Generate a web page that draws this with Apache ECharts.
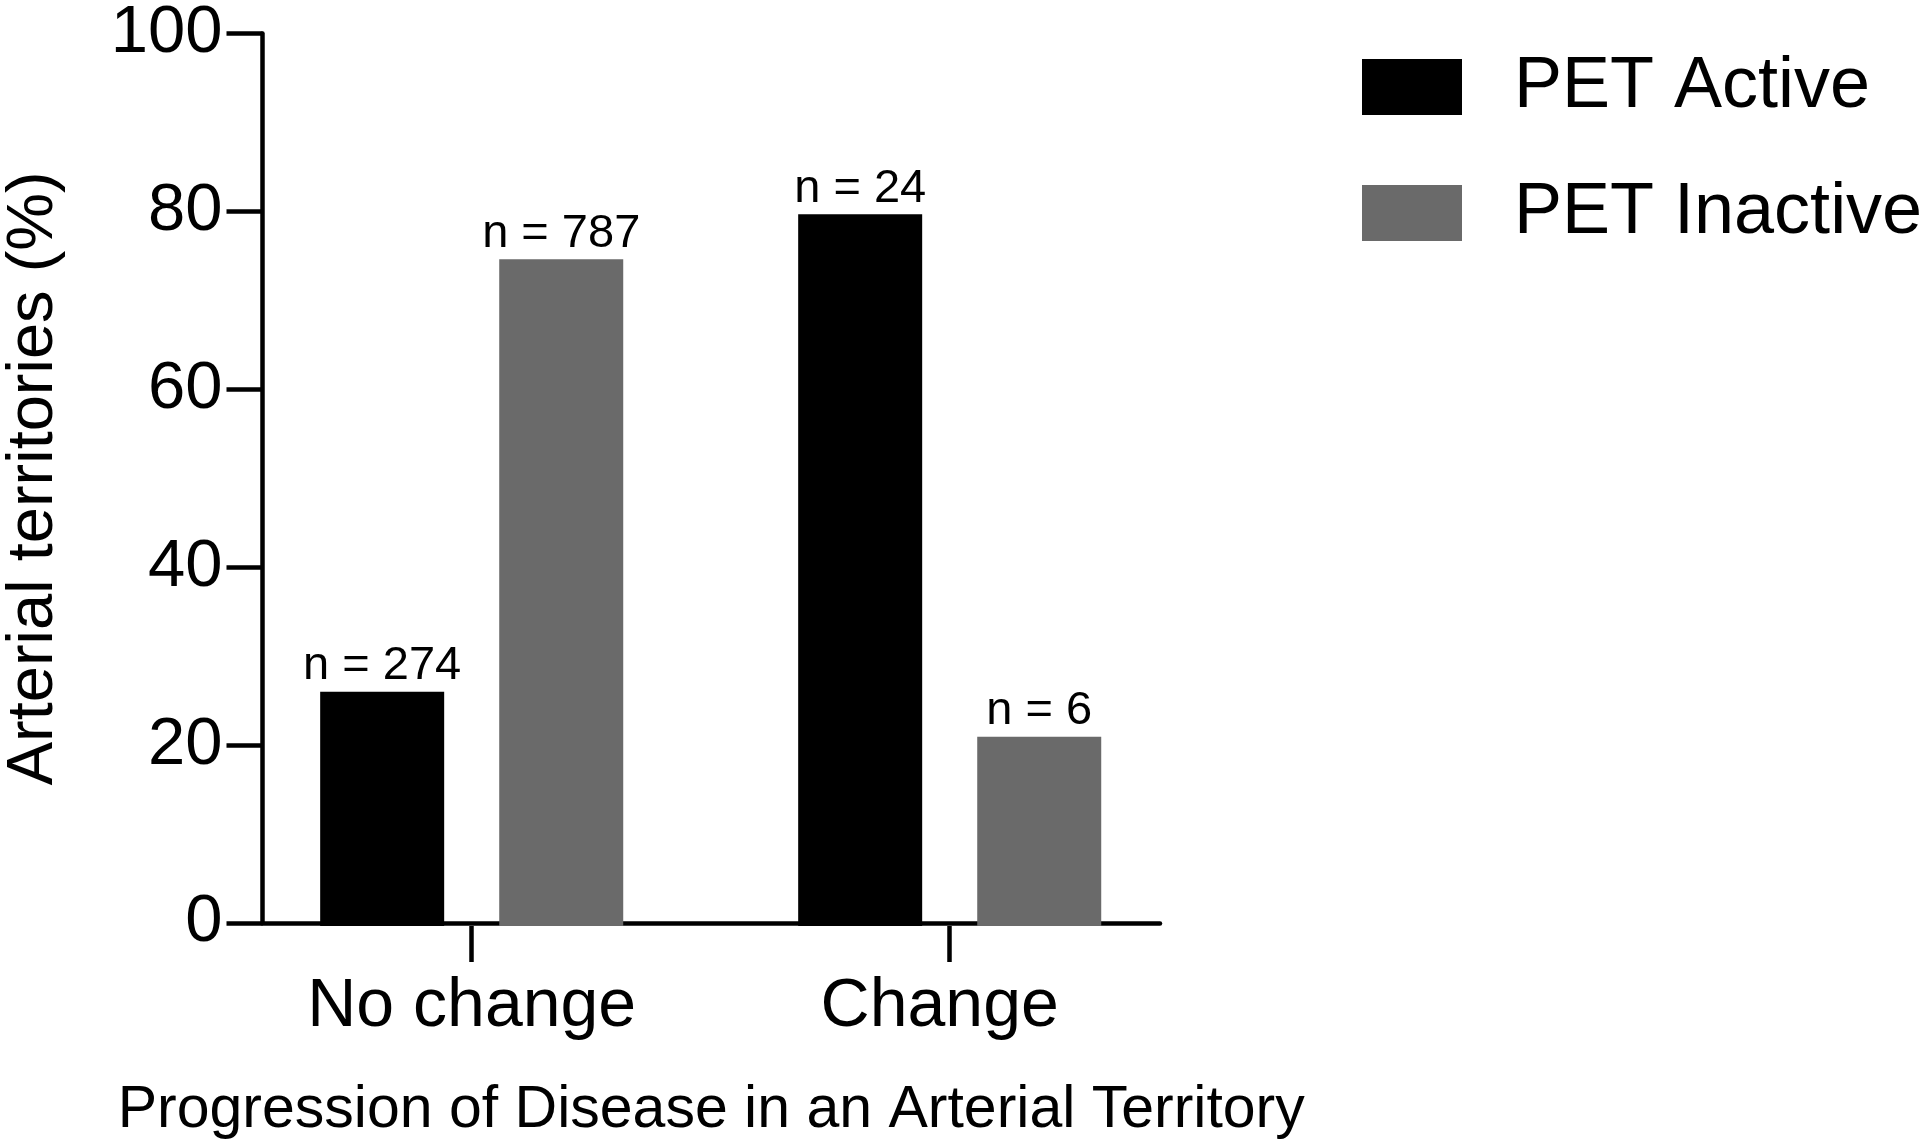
<!DOCTYPE html>
<html>
<head>
<meta charset="utf-8">
<script src="https://cdn.jsdelivr.net/npm/echarts@6/dist/echarts.min.js"></script>
<style>
html,body{margin:0;padding:0;background:#fff;}
#chart{width:1920px;height:1145px;}
</style>
</head>
<body>
<div id="chart"></div>
<script>
const categories = ['No change', 'Change'];
const seriesNames = ['PET Active', 'PET Inactive'];
const activeValues = [26, 79];
const inactiveValues = [74, 21];
const activeCounts = [274, 24];
const inactiveCounts = [787, 6];
const yTicks = { min: 0, max: 100, interval: 20 };
const xTitle = 'Progression of Disease in an Arterial Territory';
const yTitle = 'Arterial territories (%)';

const FONT = '"Liberation Sans", Arial, Helvetica, sans-serif';
const AXW = 4.5;

const chart = echarts.init(document.getElementById('chart'), null, { renderer: 'canvas' });

const labelStyle = {
  show: true,
  position: 'top',
  distance: 2,
  color: '#000',
  fontFamily: FONT,
  fontSize: 47
};

// per-category label nudge (the "Change" label sits slightly left of its tick)
const categoryLabelPadding = [[0, 0, 0, 0], [0, 20, 0, 0]];
const categoryData = categories.map((c, i) => ({ value: c, textStyle: { padding: categoryLabelPadding[i] } }));

chart.setOption({
  animation: false,
  backgroundColor: '#ffffff',
  textStyle: { fontFamily: FONT },
  legend: {
    orient: 'vertical',
    left: 1362,
    top: 51,
    padding: 0,
    itemWidth: 100,
    itemHeight: 56,
    itemGap: 54,
    icon: 'rect',
    data: seriesNames,
    textStyle: { fontFamily: FONT, fontSize: 72, color: '#000', padding: [0, 0, 0, 47] }
  },
  grid: [
    { left: 232.7, top: 25, width: 956, height: 901, containLabel: false },
    { left: 262.5, top: 25, width: 897.5, height: 901, containLabel: false }
  ],
  xAxis: [
    {
      gridIndex: 0,
      type: 'category',
      data: categoryData,
      axisLine: { show: false },
      axisTick: { show: true, alignWithLabel: true, length: 36, lineStyle: { color: '#000', width: AXW } },
      axisLabel: { color: '#000', fontFamily: FONT, fontSize: 68, margin: 47 },
      splitLine: { show: false }
    },
    {
      gridIndex: 1,
      type: 'category',
      data: categories,
      axisLine: { show: true, onZero: false, lineStyle: { color: '#000', width: AXW } },
      axisTick: { show: false },
      axisLabel: { show: false },
      splitLine: { show: false },
      name: xTitle,
      nameLocation: 'middle',
      nameGap: 158,
      nameTextStyle: { color: '#000', fontFamily: FONT, fontSize: 59 }
    }
  ],
  yAxis: [
    {
      gridIndex: 0,
      type: 'value',
      min: yTicks.min,
      max: yTicks.max,
      interval: yTicks.interval,
      show: false,
      splitLine: { show: false }
    },
    {
      gridIndex: 1,
      type: 'value',
      min: yTicks.min,
      max: yTicks.max,
      interval: yTicks.interval,
      axisLine: { show: true, lineStyle: { color: '#000', width: AXW } },
      axisTick: { show: true, length: 36, lineStyle: { color: '#000', width: AXW } },
      axisLabel: { color: '#000', fontFamily: FONT, fontSize: 67, margin: 40 },
      splitLine: { show: false },
      name: yTitle,
      nameLocation: 'middle',
      nameRotate: 90,
      nameGap: 196,
      nameTextStyle: { color: '#000', fontFamily: FONT, fontSize: 65 }
    }
  ],
  series: [
    {
      name: seriesNames[0],
      type: 'bar',
      xAxisIndex: 0,
      yAxisIndex: 0,
      data: activeValues,
      barWidth: 124,
      barGap: '44.4%',
      itemStyle: { color: '#000000' },
      label: Object.assign({}, labelStyle, { formatter: p => 'n = ' + activeCounts[p.dataIndex] })
    },
    {
      name: seriesNames[1],
      type: 'bar',
      xAxisIndex: 0,
      yAxisIndex: 0,
      data: inactiveValues,
      barWidth: 124,
      barGap: '44.4%',
      itemStyle: { color: '#6a6a6a' },
      label: Object.assign({}, labelStyle, { formatter: p => 'n = ' + inactiveCounts[p.dataIndex] })
    }
  ]
});
</script>
</body>
</html>
